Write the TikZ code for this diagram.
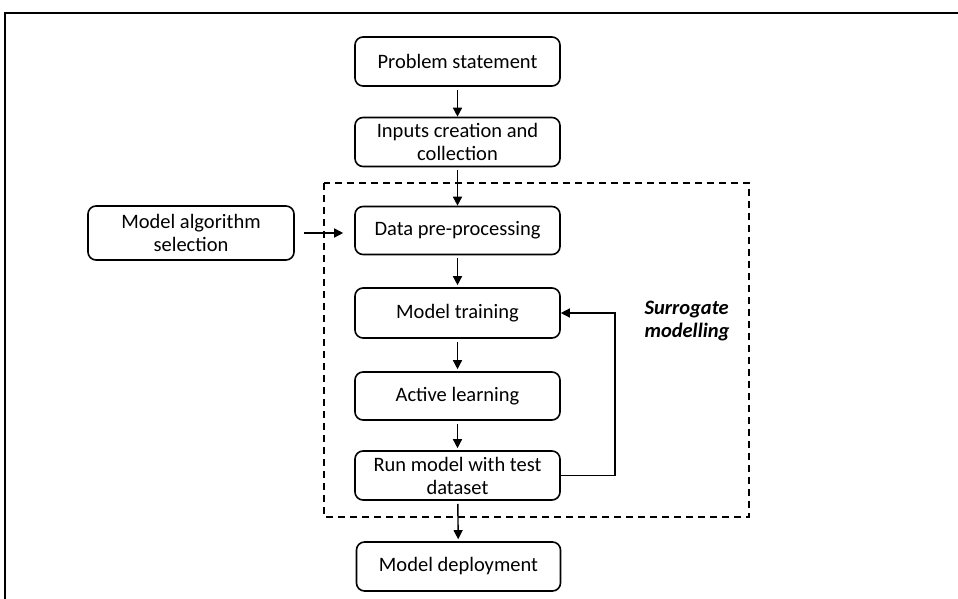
\documentclass[tikz,border=0pt]{standalone}
\usepackage{fontspec}
\setmainfont{Carlito}
\usetikzlibrary{arrows.meta}
\begin{document}
\begin{tikzpicture}[x=1pt,y=-1pt,
  box/.style={draw,line width=1.6pt,rounded corners=8pt,minimum width=205pt,minimum height=49pt,inner sep=2pt,align=center,font=\fontsize{20.5}{23}\selectfont},
  arr/.style={line width=1.4pt,-{Triangle[width=9pt,length=9pt]}}]
\useasboundingbox (0,0) rectangle (958,599);
\draw[line width=2pt] (958,13) -- (5,13) -- (5,599);
\draw[dashed,dash pattern=on 7pt off 5pt,line width=1.5pt] (324,183) rectangle (749,517);
\node[box] (prob) at (457.5,61.5) {Problem statement};
\node[box] (inp) at (457.5,142) {Inputs creation and\\collection};
\node[box,minimum width=206pt,minimum height=54pt] (alg) at (191,233) {Model algorithm\\selection};
\node[box,minimum height=48pt] (data) at (457.5,230.5) {Data pre-processing};
\node[box,minimum height=50pt] (train) at (457.5,313) {Model training};
\node[box,minimum height=48pt] (act) at (457.5,396) {Active learning};
\node[box] (run) at (457.5,475.5) {Run model with test\\dataset};
\node[box,minimum width=204pt] (dep) at (458.5,566.5) {Model deployment};
\node[anchor=west,align=left,font=\fontsize{20.5}{23}\selectfont\bfseries\itshape] (lab) at (641,321) {Surrogate\\modelling};
\draw[arr,shorten <=3pt] (prob) -- (inp);
\draw[arr,shorten <=3pt] (inp) -- (data);
\draw[arr,shorten <=3pt,shorten >=2pt] (data) -- (train);
\draw[arr,shorten <=3pt,shorten >=2pt] (train) -- (act);
\draw[arr,shorten <=3pt,shorten >=2pt] (act) -- (run);
\draw[arr,shorten <=3pt,shorten >=2pt] (run) -- (dep);
\draw[arr,shorten <=9pt,shorten >=11pt] (alg.east) -- (data.west |- alg.east);
\coordinate (c1) at (615,475.5);
\coordinate (c2) at (615,313);
\draw[arr] (run.east) -- (c1) -- (c2) -- (train.east);
\end{tikzpicture}
\end{document}
